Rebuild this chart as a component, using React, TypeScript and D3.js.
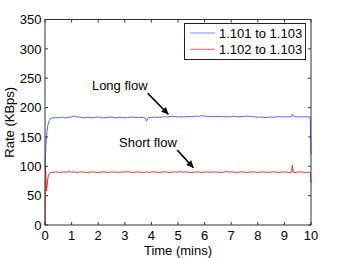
import React from "react";
import * as d3 from "d3";

const timeMins = [
  0, 0.02, 0.04, 0.06, 0.08, 0.1, 0.13, 0.16, 0.2, 0.25, 0.3,
  0.4, 0.5, 0.6, 0.7, 0.8, 0.9, 1.0, 1.1, 1.2, 1.3, 1.4, 1.5, 1.6, 1.7, 1.8, 1.9,
  2.0, 2.1, 2.2, 2.3, 2.4, 2.5, 2.6, 2.7, 2.8, 2.9, 3.0, 3.1, 3.2, 3.3, 3.4, 3.5,
  3.6, 3.7, 3.78, 3.82, 3.86, 3.9, 4.0, 4.1, 4.2, 4.3, 4.4, 4.5, 4.6, 4.7, 4.8, 4.9,
  5.0, 5.1, 5.2, 5.3, 5.4, 5.5, 5.6, 5.7, 5.8, 5.9, 6.0, 6.1, 6.2, 6.3, 6.4, 6.5,
  6.6, 6.7, 6.8, 6.9, 7.0, 7.1, 7.2, 7.3, 7.4, 7.5, 7.6, 7.7, 7.8, 7.9, 8.0, 8.1,
  8.2, 8.3, 8.4, 8.5, 8.6, 8.7, 8.8, 8.9, 9.0, 9.1, 9.2, 9.27, 9.3, 9.33, 9.4, 9.5,
  9.6, 9.7, 9.8, 9.9, 9.97, 10,
];

const longFlow = [
  99, 122, 140, 152, 161, 168, 174, 178, 181, 182, 182.5,
  183, 182.5, 183.5, 183, 182.5, 183.5, 184, 185.5, 184.5, 183.5, 183, 182.5, 183.5, 183, 182.5, 183.5,
  184, 183, 182.5, 183, 183.5, 184, 183, 182.5, 183.5, 183, 182.5, 183, 183.5, 184, 183, 183.5,
  183, 183.5, 182, 177, 182, 183.5, 183, 184, 183.5, 183, 184, 184.5, 184, 184.5, 185, 184.5,
  184, 184.5, 184, 184.5, 185, 184.5, 185, 185.5, 185, 186, 185.5, 185, 184.5, 185, 184.5, 185,
  184.5, 185, 184.5, 184, 184.5, 185, 184.5, 184, 184.5, 185, 185.5, 185, 184.5, 184, 183.5, 184,
  183.5, 183, 183.5, 184, 183.5, 184, 184.5, 184, 184.5, 184, 184.5, 185, 189, 186, 184.5, 184,
  184.5, 184, 184.5, 184, 183.5, 120,
];

const shortFlow = [
  0, 100, 78, 58, 66, 78, 84, 87, 89, 90, 89.5,
  90.5, 90, 89.5, 90.5, 90, 91, 90, 90.5, 89.5, 90, 90.5, 90, 89.5, 90, 90.5, 90,
  89.5, 90, 90.5, 90, 89.5, 90.5, 90, 90, 89.5, 90.5, 90, 91, 90, 89.5, 90, 90.5,
  90, 89.5, 90, 90.5, 90, 89.5, 90, 90.5, 90, 89.5, 90, 90.5, 90, 89.5, 90, 90.5,
  90, 91, 90, 90.5, 90, 89.5, 90, 90.5, 90, 89.5, 90, 90.5, 90, 90, 90.5, 90,
  89.5, 90, 91, 90, 90.5, 90, 89.5, 90, 90.5, 90, 89.5, 90, 90.5, 90, 89.5, 90,
  90.5, 90, 89.5, 90, 90.5, 90, 89.5, 90, 90.5, 90, 89.5, 90, 102, 90, 89.5, 90,
  90.5, 90, 89.5, 90, 90, 72,
];

const seriesNames = ["1.101 to 1.103", "1.102 to 1.103"];
const seriesColors = ["#4a66ff", "#ff2a2a"];
const xTicks = [0, 1, 2, 3, 4, 5, 6, 7, 8, 9, 10];
const yTicks = [0, 50, 100, 150, 200, 250, 300, 350];
const annotationLabels = ["Long flow", "Short flow"];
const annotationText = [[2.81, 229.9], [3.87, 133.4]];
const arrowFrom = [[3.86, 224.3], [4.97, 127.7]];
const arrowTo = [[4.64, 188.5], [5.58, 97.6]];

const W = 343;
const H = 258;
const left = 45;
const right = 311;
const top = 19.5;
const bottom = 225;
const FONT = "'Liberation Sans', Arial, Helvetica, sans-serif";

export default function App() {
  const x = d3.scaleLinear().domain([0, 10]).range([left, right]);
  const y = d3.scaleLinear().domain([0, 350]).range([bottom, top]);
  const line = d3
    .line<number>()
    .x((_, i) => x(timeMins[i]))
    .y((d) => y(d));
  const series = [longFlow, shortFlow];
  const tickLen = 3;
  const axisColor = "#333";

  return (
    <svg
      width={W}
      height={H}
      style={{ position: "absolute", left: 0, top: 0, background: "#fff" }}
      fontFamily={FONT}
    >
      <defs>
        <marker
          id="ah"
          viewBox="0 0 10 10"
          refX="10"
          refY="5"
          markerWidth="9"
          markerHeight="7"
          markerUnits="userSpaceOnUse"
          orient="auto"
        >
          <path d="M0,0 L10,5 L0,10 z" fill="#000" />
        </marker>
      </defs>
      <rect x={left} y={top} width={right - left} height={bottom - top} fill="#fff" />
      {series.map((s, i) => (
        <path key={i} d={line(s) || ""} fill="none" stroke={seriesColors[i]} strokeWidth={1} />
      ))}
      <rect
        x={left}
        y={top}
        width={right - left}
        height={bottom - top}
        fill="none"
        stroke={axisColor}
        strokeWidth={1}
      />
      {xTicks.map((t) => (
        <g key={"x" + t}>
          <line x1={x(t)} x2={x(t)} y1={bottom} y2={bottom - tickLen} stroke={axisColor} />
          <line x1={x(t)} x2={x(t)} y1={top} y2={top + tickLen} stroke={axisColor} />
          <text x={x(t)} y={239.5} textAnchor="middle" fontSize={13} fill="#000">
            {t}
          </text>
        </g>
      ))}
      {yTicks.map((t) => (
        <g key={"y" + t}>
          <line x1={left} x2={left + tickLen} y1={y(t)} y2={y(t)} stroke={axisColor} />
          <line x1={right} x2={right - tickLen} y1={y(t)} y2={y(t)} stroke={axisColor} />
          <text x={41.5} y={y(t) + 4.7} textAnchor="end" fontSize={13} fill="#000">
            {t}
          </text>
        </g>
      ))}
      <text x={(left + right) / 2} y={254.5} textAnchor="middle" fontSize={13} fill="#000">
        Time (mins)
      </text>
      <text
        transform={`translate(13.5, ${(top + bottom) / 2}) rotate(-90)`}
        textAnchor="middle"
        fontSize={13}
        fill="#000"
      >
        Rate (KBps)
      </text>
      {annotationLabels.map((lab, i) => (
        <g key={lab}>
          <text
            x={x(annotationText[i][0])}
            y={y(annotationText[i][1])}
            textAnchor="middle"
            fontSize={13}
            fill="#000"
          >
            {lab}
          </text>
          <line
            x1={x(arrowFrom[i][0])}
            y1={y(arrowFrom[i][1])}
            x2={x(arrowTo[i][0])}
            y2={y(arrowTo[i][1])}
            stroke="#000"
            strokeWidth={1.6}
            markerEnd="url(#ah)"
          />
        </g>
      ))}
      <rect x={184.5} y={23.5} width={121} height={36} fill="#fff" stroke="#222" strokeWidth={1} />
      {seriesNames.map((n, i) => (
        <g key={n}>
          <line
            x1={190}
            x2={215}
            y1={33 + i * 16.3}
            y2={33 + i * 16.3}
            stroke={seriesColors[i]}
            strokeWidth={i === 0 ? 1.3 : 1}
            opacity={i === 0 ? 0.55 : 0.75}
          />
          <text x={219} y={33 + i * 16.3 + 4.7} fontSize={13} fill="#000">
            {n}
          </text>
        </g>
      ))}
    </svg>
  );
}
